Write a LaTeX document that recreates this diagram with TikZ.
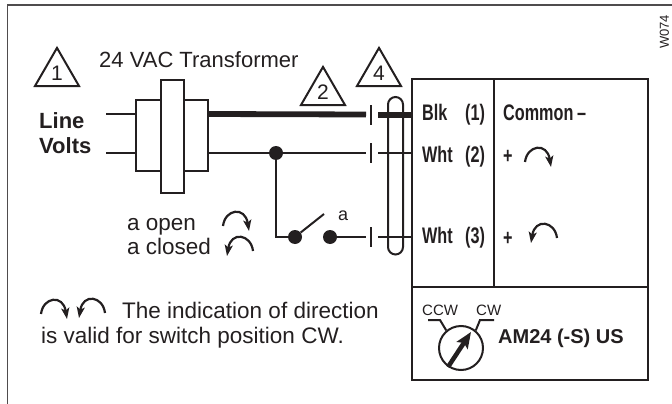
\documentclass[tikz,border=0pt]{standalone}
\usepackage{fontspec}
\setmainfont{Liberation Sans}
\newfontfamily\narrowfont[FakeStretch=0.72]{Liberation Sans}
\usetikzlibrary{arrows.meta,shapes.geometric}
\definecolor{ink}{HTML}{231F20}

\tikzset{
  wire/.style={line width=2pt},
  heavywire/.style={line width=5.8pt},
  warn/.style={regular polygon,regular polygon sides=3,draw,line width=2pt,minimum size=50.8pt,inner sep=0pt,font=\fontsize{21}{21}\selectfont},
  coil/.style={rectangle,draw,line width=2pt,fill=white,inner sep=0pt},
  blob/.style={circle,fill=ink,minimum size=14pt,inner sep=0pt},
  tbar/.style={rectangle,fill=ink,minimum width=2.8pt,minimum height=20pt,inner sep=0pt},
  txt/.style={anchor=base west,inner sep=0pt,font=\fontsize{22.5}{23}\selectfont},
  boldtxt/.style={txt,font=\fontsize{22}{22}\selectfont\bfseries},
  termtxt/.style={txt,font=\fontsize{22.5}{23}\narrowfont\bfseries},
  smalltxt/.style={txt,font=\fontsize{15}{15}\selectfont},
  turn/.style={line width=2.2pt,-{Stealth[length=11pt,width=8pt,inset=2.5pt]}},
  cwturn/.pic={\draw[turn] (0,0) .. controls (2,-17) and (22,-20) .. (26,5);},
  ccwturn/.pic={\draw[turn] (0,0) .. controls (-2,-17) and (-22,-20) .. (-26,5);}
}

\begin{document}
\begin{tikzpicture}[x=1pt,y=-1pt,color=ink]
  \useasboundingbox (0,0) rectangle (672,404);

  % frame
  \draw[line width=1.6pt,color=ink!80] (672,5) -- (7.5,5) -- (7.5,404);
  \node[rotate=90,inner sep=0pt,font=\fontsize{13}{13}\selectfont] (code) at (664.5,32) {W074};

  \begin{scope}
    \node[warn] (warnA) at (57,73.3) {1};
    \node[warn] (warnB) at (323,92.3) {2};
    \node[warn] (warnC) at (379,73.3) {4};
  \end{scope}

  \node[txt,font=\fontsize{22}{22}\selectfont] (xfmrlabel) at (99,67) {24 VAC Transformer};
  \node[boldtxt] (linelabel) at (39,128) {Line};
  \node[boldtxt] (voltslabel) at (39,153) {Volts};

  % transformer
  \node[coil,minimum width=72pt,minimum height=71pt] (coils) at (172,135.5) {};
  \node[coil,minimum width=23pt,minimum height=113pt] (core) at (172.5,136.5) {};

  \coordinate (lineA) at (106,114);
  \coordinate (lineB) at (106,153);
  \draw[wire] (lineA) -- (lineA -| coils.west);
  \draw[wire] (lineB) -- (lineB -| coils.west);

  % actuator
  \node[rectangle,draw,line width=2.2pt,minimum width=236pt,minimum height=301pt,inner sep=0pt] (unit) at (530,229.5) {};
  \coordinate (unitmid) at (494,79);
  \coordinate (unitrow) at (412,287);
  \draw[line width=2.2pt] (unitmid) -- (unitmid |- unitrow);
  \draw[line width=2.2pt] (unitrow) -- (unitrow -| unit.east);

  % terminals
  \node[tbar] (barA) at (371,115) {};
  \node[tbar] (barB) at (371,153) {};
  \node[tbar] (barC) at (371,237) {};
  \coordinate (plugA) at (378,115);
  \coordinate (plugB) at (378,153);
  \coordinate (plugC) at (378,237);

  % loop
  \coordinate (loopA) at (388,247);
  \draw[wire] (loopA) -- (388,104.5) arc[start angle=180,end angle=0,radius=7.5pt] -- (403,247) arc[start angle=0,end angle=-180,radius=7.5pt] -- cycle;

  \draw[heavywire] (coils.east |- lineA) -- (366,114.5);
  \draw[heavywire] (plugA) -- (plugA -| unit.west);
  \draw[wire] (coils.east |- lineB) -- (366,153);
  \draw[wire] (plugB) -- (plugB -| unit.west);
  \draw[wire] (plugC) -- (plugC -| unit.west);

  % switch
  \node[blob] (tap) at (276,153) {};
  \node[blob] (swA) at (295,237) {};
  \node[blob] (swB) at (330,237) {};
  \coordinate (blade) at (324,214);
  \draw[wire] (tap) -- (tap |- swA) -- (swA);
  \draw[wire] (swA) -- (blade);
  \draw[wire] (swB) -- (366,237);
  \node[txt,font=\fontsize{18}{18}\selectfont] (swlabel) at (338,220) {a};

  \node[txt] (openlabel) at (127,230) {a open};
  \node[txt] (closedlabel) at (127,254) {a closed};
  \pic at (223,226) {cwturn};
  \pic at (253,251) {ccwturn};

  \pic at (41,314) {cwturn};
  \pic at (105,313) {ccwturn};
  \node[txt] (notea) at (122,318) {The indication of direction};
  \node[txt] (noteb) at (41,343) {is valid for switch position CW.};

  % terminal texts
  \node[termtxt] (blk) at (422,121) {Blk};
  \node[termtxt] (numa) at (465,121) {(1)};
  \node[termtxt] (wht) at (422,162) {Wht};
  \node[termtxt] (numb) at (465,162) {(2)};
  \node[termtxt] (whtb) at (422,243) {Wht};
  \node[termtxt] (numc) at (465,243) {(3)};
  \node[termtxt] (common) at (503,121) {Common\,\textendash};
  \node[termtxt] (plusa) at (503,163) {+};
  \node[termtxt] (plusb) at (503,245) {+};
  \pic at (525,162) {cwturn};
  \pic at (557,238) {ccwturn};

  % dial
  \node[smalltxt] (ccw) at (422,315) {CCW};
  \node[smalltxt] (cw) at (476,315) {CW};
  \node[circle,draw,line width=2pt,minimum size=44pt,inner sep=0pt] (dial) at (461,348) {};
  \coordinate (dialtip) at (471,332);
  \coordinate (dialtail) at (448,367);
  \draw[line width=2pt] (428,320) -- (440,320) -- (dial.130);
  \draw[line width=2pt] (494,320) -- (480,320) -- (dial.50);
  \draw[line width=4.5pt,-{Stealth[length=16pt,width=13pt,inset=3pt]}] (dialtail) -- (dialtip);
  \node[boldtxt,font=\fontsize{20}{20}\selectfont\bfseries] (model) at (498,343) {AM24 (-S) US};
\end{tikzpicture}
\end{document}
